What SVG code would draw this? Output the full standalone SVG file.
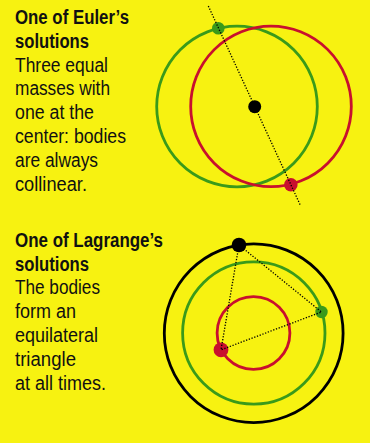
<svg xmlns="http://www.w3.org/2000/svg" width="370" height="443" viewBox="0 0 370 443">
<defs>
<style>
.t{font-family:"Liberation Sans",Arial,sans-serif;font-size:20px;fill:#111;}
.b{font-weight:bold;}
.orb{fill:none;stroke-width:2.8;}
.g{stroke:#3a9a1a;}
.r{stroke:#c8102e;}
.k{stroke:#000;}
.dot{fill:none;stroke:#000;stroke-width:1.3;stroke-dasharray:1.3 1.6;}
</style>
</defs>
<rect width="370" height="443" fill="#f7f211"/>
<g id="euler-text">
<text class="t b" x="15" y="24" textLength="114" lengthAdjust="spacingAndGlyphs">One of Euler’s</text>
<text class="t b" x="15" y="47.8" textLength="74" lengthAdjust="spacingAndGlyphs">solutions</text>
<text class="t" x="15" y="71.6" textLength="93" lengthAdjust="spacingAndGlyphs">Three equal</text>
<text class="t" x="15" y="95.4" textLength="95" lengthAdjust="spacingAndGlyphs">masses with</text>
<text class="t" x="15" y="119.2" textLength="79" lengthAdjust="spacingAndGlyphs">one at the</text>
<text class="t" x="15" y="143" textLength="111" lengthAdjust="spacingAndGlyphs">center: bodies</text>
<text class="t" x="15" y="166.8" textLength="83" lengthAdjust="spacingAndGlyphs">are always</text>
<text class="t" x="15" y="190.6" textLength="72" lengthAdjust="spacingAndGlyphs">collinear.</text>
</g>
<g id="lagrange-text">
<text class="t b" x="15" y="246.7" textLength="148" lengthAdjust="spacingAndGlyphs">One of Lagrange’s</text>
<text class="t b" x="15" y="270.5" textLength="74" lengthAdjust="spacingAndGlyphs">solutions</text>
<text class="t" x="15" y="294.3" textLength="85" lengthAdjust="spacingAndGlyphs">The bodies</text>
<text class="t" x="15" y="318.1" textLength="61" lengthAdjust="spacingAndGlyphs">form an</text>
<text class="t" x="15" y="341.9" textLength="83" lengthAdjust="spacingAndGlyphs">equilateral</text>
<text class="t" x="15" y="365.7" textLength="61" lengthAdjust="spacingAndGlyphs">triangle</text>
<text class="t" x="15" y="389.5" textLength="91" lengthAdjust="spacingAndGlyphs">at all times.</text>
</g>
<g id="euler-orbits">
<circle class="orb g" cx="237" cy="106.5" r="80.3"/>
<circle class="orb r" cx="271" cy="106.4" r="80.3"/>
</g>
<g id="euler-bodies">
<circle id="euler-green" cx="218.3" cy="28.3" r="6.3" fill="#3a9a1a"/>
<circle id="euler-black" cx="254.7" cy="106.7" r="6.5" fill="#000"/>
<circle id="euler-red" cx="290.8" cy="184.8" r="6.8" fill="#c8102e"/>
</g>
<g id="lagrange-orbits">
<circle class="orb k" cx="253.7" cy="333.2" r="89.4"/>
<circle class="orb g" cx="253.8" cy="333" r="71.2"/>
<circle class="orb r" cx="253.5" cy="333" r="36.4"/>
</g>
<g id="lagrange-bodies">
<circle id="lag-black" cx="239" cy="245" r="7.3" fill="#000"/>
<circle id="lag-green" cx="321.5" cy="312" r="6.2" fill="#3a9a1a"/>
<circle id="lag-red" cx="221" cy="349.8" r="7.4" fill="#c8102e"/>
</g>
<g id="connectors">
<line class="dot" x1="208.3" y1="6" x2="300.7" y2="206"/>
<polygon class="dot" points="239,245 321.5,312 221,349.8"/>
</g>
</svg>
